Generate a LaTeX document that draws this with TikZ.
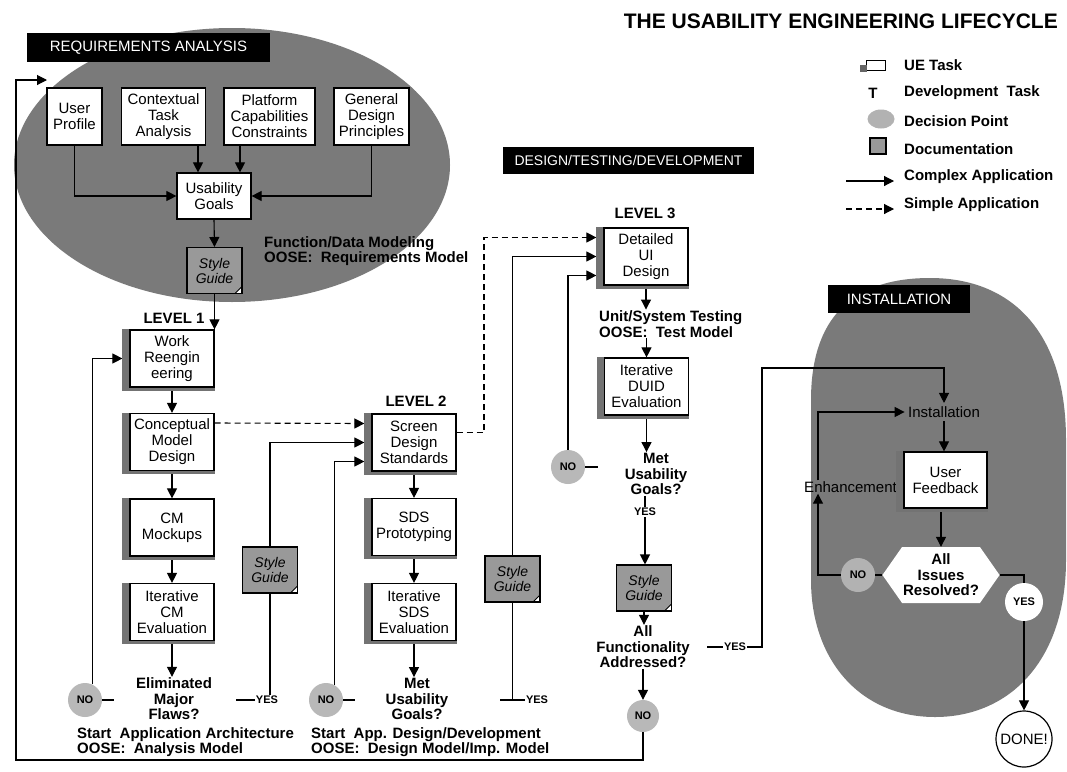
\documentclass[tikz,border=0pt]{standalone}
\usepackage{fontspec}
\setmainfont{Liberation Sans}
\usetikzlibrary{arrows.meta,shapes.symbols,shapes.geometric,calc}
\tikzset{
  ftext/.style={font=\fontsize{15}{16}\selectfont},
  bftext/.style={font=\fontsize{15}{15.5}\selectfont\bfseries},
  lgtext/.style={font=\fontsize{15}{16}\selectfont\bfseries, inner sep=1pt},
  uebox/.style={draw, line width=1.2pt, fill=white, align=center, inner sep=1pt, minimum height=57pt, minimum width=84pt, ftext},
  rabox/.style={draw, line width=1.2pt, fill=white, align=center, inner sep=1pt, minimum height=57pt, ftext},
  sguide/.style={draw, line width=1.1pt, fill=black!40, minimum width=55pt, minimum height=46pt, align=center, inner sep=0pt,
    font=\fontsize{14}{15}\selectfont\itshape,
    path picture={\fill[white] ([xshift=0.6pt,yshift=-0.6pt]path picture bounding box.south east) -- ++(-8pt,0pt) -- ++(8pt,8pt) -- cycle;
      \draw[line width=0.8pt] ([xshift=-7pt]path picture bounding box.south east) -- ([yshift=7pt]path picture bounding box.south east);}},
  decision/.style={circle, fill=black!28, minimum size=34pt, inner sep=0pt, font=\fontsize{11}{12}\selectfont\bfseries},
  question/.style={align=center, font=\fontsize{15}{15.5}\selectfont\bfseries, inner sep=1pt},
  yeslabel/.style={font=\fontsize{11}{12}\selectfont\bfseries, inner sep=1pt},
  phase/.style={fill=black, text=white, inner sep=3pt},
  arr/.style={line width=1.1pt, -{Triangle[length=10pt,width=10pt]}},
  ln/.style={line width=1.1pt},
  dsh/.style={line width=1.1pt, dash pattern=on 6pt off 4pt, -{Triangle[length=10pt,width=10pt]}},
  blob/.style={fill=black!52},
  boxshade/.style={fill=black!55}
}
\begin{document}
\begin{tikzpicture}[x=1pt,y=-1pt]
\useasboundingbox (0,0) rectangle (1067,771);
\fill[white] (0,0) rectangle (1067,771);

% ---------- background areas ----------
\fill[blob] (232,165) ellipse [x radius=218pt, y radius=137pt];
\fill[blob] (930,278) .. controls (1010,278) and (1066,330) .. (1066,440)
  -- (1066,560) .. controls (1066,660) and (1010,717) .. (935,717)
  .. controls (860,717) and (811,660) .. (811,580)
  -- (811,400) .. controls (811,320) and (850,278) .. (930,278) -- cycle;

% ---------- title and legend ----------
\node[font=\fontsize{21}{22}\selectfont\bfseries, anchor=east, inner sep=0pt] (Title) at (1058,21) {THE USABILITY ENGINEERING LIFECYCLE};
\node[draw, line width=1pt, fill=white, minimum width=19pt, minimum height=10pt, inner sep=0pt] (IUE) at (876,65) {};
\node[fill=black!60, minimum size=7pt, inner sep=0pt] (IUE2) at (863,68) {};
\node[lgtext, anchor=west] (LUE) at (903,65) {UE Task};
\node[lgtext] (LT) at (873,93) {T};
\node[lgtext, anchor=west] (LDev) at (903,93) {Development\ \ Task};
\node[ellipse, fill=black!30, minimum width=27pt, minimum height=19pt, inner sep=0pt] (IDP) at (881,119) {};
\node[lgtext, anchor=west] (LDP) at (903,121) {Decision Point};
\node[draw, line width=1.2pt, fill=black!40, minimum size=16pt, inner sep=0pt] (IDoc) at (878,146) {};
\node[lgtext, anchor=west] (LDoc) at (903,149) {Documentation};
\coordinate (ca1) at (846,181); \coordinate (ca2) at (894,181);
\draw[arr] (ca1) -- (ca2);
\node[lgtext, anchor=west] (LCA) at (903,177) {Complex Application};
\coordinate (sa1) at (846,209); \coordinate (sa2) at (894,209);
\draw[dsh] (sa1) -- (sa2);
\node[lgtext, anchor=west] (LSA) at (903,205) {Simple Application};

% ---------- phase labels ----------
\node[phase, minimum width=243pt, minimum height=29pt, font=\fontsize{15}{16}\selectfont] (RA) at (148.5,47.5) {REQUIREMENTS ANALYSIS};
\node[phase, minimum width=251pt, minimum height=27pt, font=\fontsize{14}{15}\selectfont] (DTD) at (628.5,160.5) {DESIGN/TESTING/DEVELOPMENT};
\node[phase, minimum width=142pt, minimum height=28pt, font=\fontsize{15}{16}\selectfont] (INS) at (899,299) {INSTALLATION};

% ---------- requirements analysis ----------
\node[rabox, minimum width=55pt] (UP) at (74.5,116.5) {User\\Profile};
\node[rabox, minimum width=84pt] (CTA) at (163.5,116.5) {Contextual\\Task\\Analysis};
\node[rabox, minimum width=91pt] (PCC) at (269.5,116.5) {Platform\\Capabilities\\Constraints};
\node[rabox, minimum width=75pt] (GDP) at (371.5,116.5) {General\\Design\\Principles};
\node[rabox, minimum width=74pt, minimum height=46pt] (UG) at (214,196) {Usability\\Goals};
\node[sguide] (SG1) at (214.5,270.5) {Style\\Guide};
\node[bftext, align=left, anchor=west, inner sep=0pt] (FDM) at (264,251) {Function/Data Modeling\\OOSE:\ \ Requirements Model};

\draw[arr] (UP.south) |- (UG.west);
\draw[arr] (GDP.south) |- (UG.east);
\draw[arr] ($(UG.north |- CTA.south)+(-16,0)$) -- ($(UG.north)+(-16,0)$);
\draw[arr] ($(UG.north |- PCC.south)+(26,0)$) -- ($(UG.north)+(26,0)$);
\draw[arr] (UG.south) -- (SG1.north);

% ---------- level 1 ----------
\node[bftext] (L1) at (174,318) {LEVEL 1};
\node[uebox] (WR) at (172,358.5) {Work\\Reengin\\eering};
\node[uebox] (CMD) at (172,442) {Conceptual\\Model\\Design};
\node[uebox] (CMM) at (172,527.5) {CM\\Mockups};
\node[uebox] (ICE) at (172,612) {Iterative\\CM\\Evaluation};
\node[question] (Q1) at (174,699) {Eliminated\\Major\\Flaws?};
\draw[arr] (SG1.south) -- (SG1.south |- WR.north);
\draw[arr] (WR.south) -- (CMD.north);
\draw[arr] (CMD.south) -- (CMM.north);
\draw[arr] (CMM.south) -- (ICE.north);
\draw[arr] (ICE.south) -- (ICE.south |- Q1.north);
\node[decision] (NO1) at (85,700) {NO};
\coordinate (d1a) at (114,700);
\draw[ln] (NO1.east) -- (d1a);
\draw[arr] (NO1.65) |- ($(WR.west)+(-7,0)$);
\node[yeslabel] (Y1) at (267,700) {YES};
\coordinate (d1b) at (236,700);
\draw[ln] (d1b) -- (Y1.west);
\node[sguide] (SG2) at (270,570) {Style\\Guide};
\draw[ln] (Y1.north -| SG2.south) -- (SG2.south);
\node[bftext, align=left, anchor=west, inner sep=0pt] (SAA) at (77,742) {Start\ \ Application Architecture\\OOSE:\ \ Analysis Model};

% ---------- level 2 ----------
\node[bftext] (L2) at (416,401) {LEVEL 2};
\node[uebox] (SDS) at (414,442.5) {Screen\\Design\\Standards};
\node[uebox] (SDSP) at (414,527) {SDS\\Prototyping};
\node[uebox] (ISE) at (414,612) {Iterative\\SDS\\Evaluation};
\node[question] (Q2) at (417,699) {Met\\Usability\\Goals?};
\draw[arr] (SG2.north) |- ($(SDS.west)+(-7,0)$);
\draw[dsh] ($(CMD.east)+(0,-19)$) -- ($(SDS.west)+(-7,-19)$);
\draw[arr] (SDS.south) -- (SDSP.north);
\draw[arr] (SDSP.south) -- (ISE.north);
\draw[arr] (ISE.south) -- (ISE.south |- Q2.north);
\node[decision] (NO2) at (326,700) {NO};
\coordinate (d2a) at (355,700);
\draw[ln] (NO2.east) -- (d2a);
\draw[arr] (NO2.60) |- ($(SDS.west)+(-7,19)$);
\node[yeslabel] (Y2) at (537,700) {YES};
\coordinate (d2b) at (500,700);
\draw[ln] (d2b) -- (Y2.west);
\node[sguide] (SG3) at (512.5,579) {Style\\Guide};
\draw[ln] (SG3.south) -- (SG3.south |- d2b);
\node[bftext, align=left, anchor=west, inner sep=0pt] (SAD) at (311,742) {Start\ \ App. Design/Development\\OOSE:\ \ Design Model/Imp. Model};

% ---------- level 3 ----------
\node[bftext] (L3) at (645,213) {LEVEL 3};
\node[uebox] (DUI) at (646,256.5) {Detailed\\UI\\Design};
\draw[arr] (SG3.north) |- ($(DUI.west)+(-7,0)$);
\coordinate (dk) at (484,237.5);
\draw[dsh] ($(SDS.east)+(0,-10)$) -| (dk) -- ($(DUI.west)+(-7,-19)$);
\node[bftext, align=left, anchor=west, inner sep=1pt] (UST) at (598,324) {Unit/System Testing\\OOSE:\ \ Test Model};
\node[uebox] (DUID) at (646.5,386.5) {Iterative\\DUID\\Evaluation};
\node[question] (Q3) at (656,474) {Met\\Usability\\Goals?};
\draw[arr] (DUI.south) -- (DUI.south |- UST.north);
\draw[arr] (UST.south -| DUID.north) -- (DUID.north);
\draw[arr] (DUID.south) -- (DUID.south |- Q3.north);
\node[decision] (NO3) at (568,467) {NO};
\coordinate (d3a) at (598,467);
\draw[ln] (NO3.east) -- (d3a);
\draw[arr] (NO3.north) |- ($(DUI.west)+(-7,19)$);
\node[yeslabel] (Y3) at (645,512) {YES};
\draw[ln] (Y3.north |- Q3.south) -- (Y3.north);
\node[sguide] (SG4) at (644,588) {Style\\Guide};
\draw[arr] (Y3.south) -- (Y3.south |- SG4.north);
\node[question] (Q4) at (643,647) {All\\Functionality\\Addressed?};
\draw[arr] (SG4.south) -- (SG4.south |- Q4.north);
\node[decision, minimum size=32pt] (NO4) at (643,716) {NO};
\draw[arr] (Q4.south) -- (NO4.north);
\coordinate (bl) at (16,760);
\coordinate (lp) at (47,80);
\draw[arr] (NO4.south) |- (bl) |- (lp);
\node[yeslabel] (Y4) at (735,647) {YES};
\coordinate (d4a) at (707,647);
\draw[ln] (d4a) -- (Y4.west);
\coordinate (c1) at (762,368);

% ---------- installation ----------
\node[ftext] (Inst) at (944,412) {Installation};
\node[uebox, minimum width=83pt, minimum height=56pt] (UF) at (945.5,480) {User\\Feedback};
\node[ftext, anchor=east, inner sep=1pt] (Enh) at (898,487) {Enhancement};
\node[question, signal, signal to=east and west, signal pointer angle=110, fill=white, minimum width=113pt, minimum height=56pt] (Hex) at (941,575) {All\\Issues\\Resolved?};
\node[decision, fill=black!30] (NO5) at (858,575) {NO};
\node[circle, fill=white, minimum size=38pt, inner sep=0pt, yeslabel] (YC) at (1024,602) {YES};
\node[circle, draw, line width=1.2pt, fill=white, minimum size=56pt, inner sep=0pt, ftext] (DONE) at (1024,739) {DONE!};
\coordinate (lx) at (818,0);
\draw[arr] (Y4.east) -| (c1) -| (Inst.north);
\draw[arr] (Inst.south) -- (Inst.south |- UF.north);
\draw[arr] (Hex.north |- UF.south) -- (Hex.north);
\draw[ln] (NO5.east) -- (Hex.west);
\draw[arr] (NO5.west) -| (lx |- Enh.south);
\draw[arr] (lx |- Enh.north) |- (Inst.west);
\draw[ln] (Hex.east) -| (YC.north);
\draw[arr] (YC.south) -- (DONE.north);

% ---------- box shadows ----------
\foreach \n in {WR,CMD,CMM,ICE,SDS,SDSP,ISE,DUI,DUID,UF} {
  \fill[boxshade] ($(\n.north west)+(-7,0)$) rectangle (\n.south west);
  \fill[boxshade] ($(\n.south west)+(-7,0)$) rectangle ($(\n.south east)+(0,3)$);
}
\end{tikzpicture}
\end{document}
